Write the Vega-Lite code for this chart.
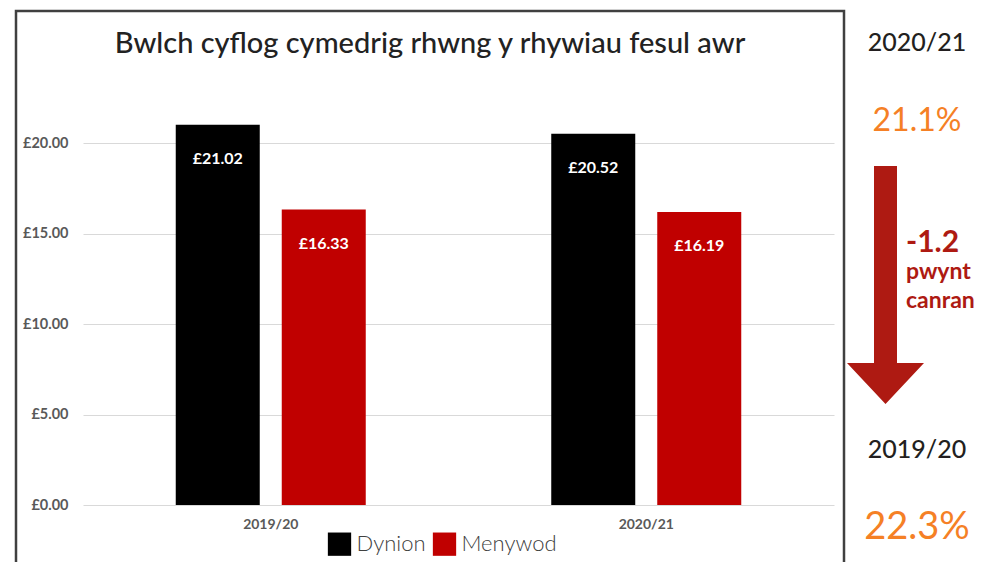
{
  "$schema": "https://vega.github.io/schema/vega-lite/v6.json",
  "padding": {"left": 14, "top": 9, "right": 0, "bottom": 0},
  "background": "white",
  "config": {
    "font": "Lato",
    "view": {"stroke": null},
    "locale": {"number": {"decimal": ".", "thousands": ",", "grouping": [3], "currency": ["£", ""], "minus": "-"}},
    "concat": {"spacing": 1}
  },
  "datasets": {
    "pay": [
      {"year": "2019/20", "gender": "Dynion", "pay": 21.02},
      {"year": "2019/20", "gender": "Menywod", "pay": 16.33},
      {"year": "2020/21", "gender": "Dynion", "pay": 20.52},
      {"year": "2020/21", "gender": "Menywod", "pay": 16.19}
    ],
    "gap": [
      {"row": "2020/21", "gap": 0.211},
      {"row": "2019/20", "gap": 0.223}
    ],
    "change": [
      {"row": "newid", "change": -1.2, "unit": ["pwynt", "canran"]}
    ]
  },
  "hconcat": [
    {
      "width": 828,
      "height": 553,
      "view": {"stroke": "#404040", "strokeWidth": 2.5},
      "title": {"text": "Bwlch cyflog cymedrig rhwng y rhywiau fesul awr", "fontSize": 29, "font": "Lato", "fontWeight": 500, "color": "#222222", "anchor": "middle", "frame": "group", "baseline": "alphabetic", "offset": -71},
      "data": {"name": "pay"},
      "encoding": {
        "x": {
          "field": "year", "type": "nominal",
          "scale": {"range": [67, 818], "paddingInner": 0.494, "paddingOuter": 0.247},
          "axis": {"title": null, "orient": "bottom", "domain": false, "ticks": false, "tickSize": 0, "labelPadding": 0, "offset": -47, "labelAngle": 0, "labelFont": "Lato", "labelFontSize": 14, "labelFontWeight": "bold", "labelColor": "#595959", "grid": false}
        },
        "xOffset": {"field": "gender", "type": "nominal", "scale": {"paddingInner": 0.2075, "paddingOuter": 0}},
        "y": {
          "field": "pay", "type": "quantitative",
          "scale": {"domain": [0, 22], "range": [494, 96], "nice": false},
          "axis": {"values": [0, 5, 10, 15, 20], "format": "$.2f", "title": null, "domain": false, "ticks": false, "tickSize": 0, "labelPadding": 0, "offset": -52, "grid": true, "gridColor": "#d9d9d9", "gridWidth": 1, "labelFont": "Lato", "labelFontSize": 14.5, "labelFontWeight": "bold", "labelColor": "#595959"}
        }
      },
      "layer": [
        {
          "mark": {"type": "bar"},
          "encoding": {
            "color": {
              "field": "gender", "type": "nominal",
              "scale": {"domain": ["Dynion", "Menywod"], "range": ["#000000", "#c00000"]},
              "legend": {
                "title": null, "orient": "none", "legendX": 311.5, "legendY": 521, "direction": "horizontal",
                "symbolType": "square", "symbolSize": 543, "symbolStrokeWidth": 0,
                "labelFont": "Lato", "labelFontSize": 22, "labelFontWeight": 300, "labelColor": "#404040",
                "labelOffset": 5, "columnPadding": 6, "padding": 0,
                "encode": {"symbols": {"update": {"fill": {"signal": "datum.value === 'Dynion' ? '#231f20' : '#ae1a12'"}, "opacity": {"value": 1}}}}
              }
            }
          }
        },
        {
          "mark": {"type": "text", "color": "white", "font": "Lato", "fontWeight": "bold", "fontSize": 16, "baseline": "middle", "dy": 34},
          "encoding": {"text": {"field": "pay", "type": "quantitative", "format": "$.2f"}}
        }
      ]
    },
    {
      "width": 126,
      "height": 553,
      "encoding": {
        "y": {"field": "row", "type": "ordinal", "scale": {"type": "point", "domain": ["2020/21", "newid", "2019/20"], "range": [32, 439], "padding": 0}, "axis": null}
      },
      "layer": [
        {
          "data": {"name": "gap"},
          "mark": {"type": "text", "font": "Lato", "fontSize": 25, "fontWeight": 500, "color": "#231f20", "baseline": "middle"},
          "encoding": {"text": {"field": "row", "type": "nominal"}}
        },
        {
          "data": {"name": "gap"},
          "mark": {"type": "text", "font": "Lato", "color": "#f58025", "baseline": "middle", "dy": 78},
          "encoding": {
            "text": {"field": "gap", "type": "quantitative", "format": ".1%"},
            "size": {"condition": {"test": "datum.row === '2019/20'", "value": 38}, "value": 32}
          }
        },
        {
          "data": {"name": "change"},
          "mark": {"type": "point", "shape": "M-43,-80.5L-20,-80.5L-20,116.5L7,116.5L-31.5,157.5L-70,116.5L-43,116.5Z", "size": 4, "filled": true, "color": "#ae1a12", "opacity": 1, "strokeWidth": 0},
          "encoding": {}
        },
        {
          "data": {"name": "change"},
          "mark": {"type": "text", "font": "Lato", "fontSize": 30, "fontWeight": "bold", "color": "#ae1a12", "align": "left", "dx": -11, "baseline": "alphabetic", "dy": 5.5},
          "encoding": {"text": {"field": "change", "type": "quantitative", "format": ".1f"}}
        },
        {
          "data": {"name": "change"},
          "mark": {"type": "text", "font": "Lato", "fontSize": 23, "fontWeight": "bold", "color": "#ae1a12", "align": "left", "dx": -11, "baseline": "alphabetic", "dy": 32.5, "lineHeight": 29},
          "encoding": {"text": {"field": "unit", "type": "nominal"}}
        }
      ]
    }
  ]
}
